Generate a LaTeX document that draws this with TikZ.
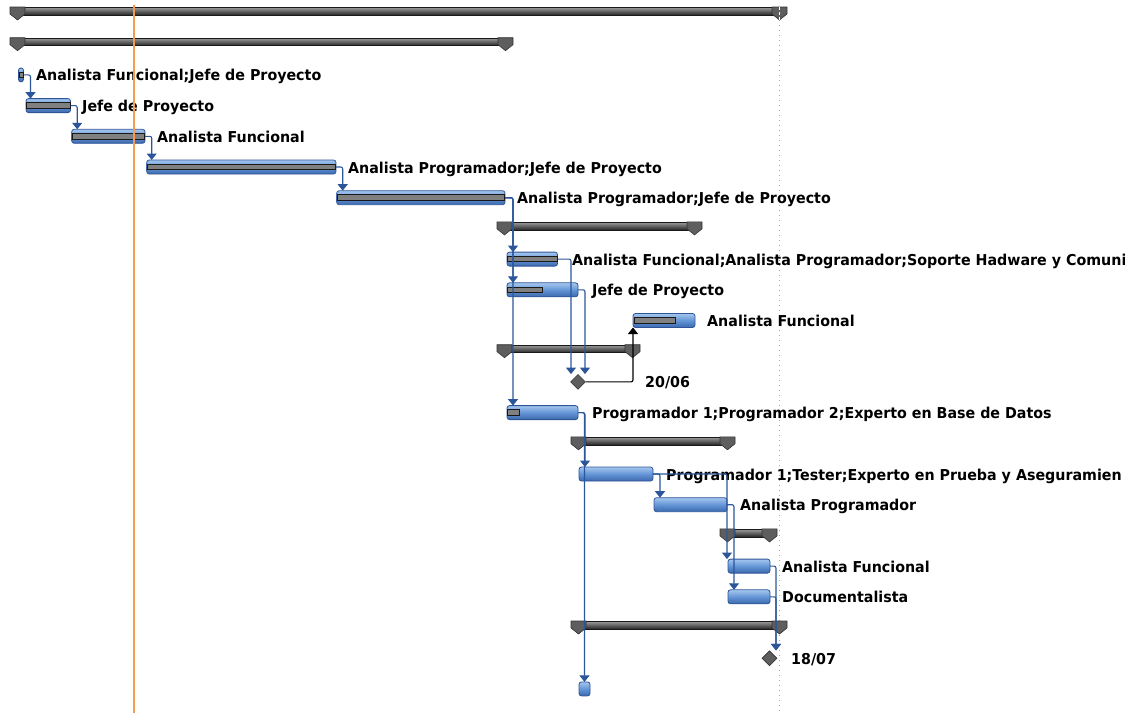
\documentclass[tikz,border=0pt]{standalone}
\usepackage{fontspec}
\setmainfont{DejaVu Sans}[FakeStretch=0.95]
\usetikzlibrary{arrows.meta,shapes.geometric}
\definecolor{linkblue}{HTML}{2B579A}
\definecolor{barline}{HTML}{2F5597}
\definecolor{bartop}{HTML}{A4C6EE}
\definecolor{barmid}{HTML}{6495D6}
\definecolor{barbot}{HTML}{3A68AD}
\definecolor{orangeln}{HTML}{F59A4E}
\definecolor{sumfill}{HTML}{5E5E5E}
\newcommand\tk[4]{\node[taskbar, minimum width={#3-#2}] (#1) at (#2,#4) {};}
\newcommand\prg[3]{\filldraw[prog] (#1,#3-3) rectangle (#2,#3+2.5);}
\newcommand\summ[3]{%
  \draw[black!90, line width=0.6pt, top color=gray!80, bottom color=black!85] (#1+4,#3-6) rectangle (#2-4,#3+1.5);
  \filldraw[fill=sumfill, draw=black!80, line width=0.6pt] (#1,#3-6.5) -- (#1+15,#3-6.5) -- (#1+15,#3+0.5) -- (#1+7.5,#3+6.5) -- (#1,#3+0.5) -- cycle;
  \filldraw[fill=sumfill, draw=black!80, line width=0.6pt] (#2-15,#3-6.5) -- (#2,#3-6.5) -- (#2,#3+0.5) -- (#2-7.5,#3+6.5) -- (#2-15,#3+0.5) -- cycle;}
\begin{document}
\begin{tikzpicture}[x=1pt,y=-1pt,
  taskbar/.style={draw=barline, line width=0.8pt, rounded corners=2.5pt, top color=bartop, bottom color=barbot, middle color=barmid, minimum height=14pt, inner sep=0pt, outer sep=0pt, anchor=west},
  lbl/.style={anchor=base west, inner sep=0pt, font=\fontsize{15}{18}\selectfont\bfseries},
  link/.style={draw=linkblue, line width=1.1pt, rounded corners=2pt, -{Triangle[width=10pt,length=6.5pt]}},
  mile/.style={diamond, draw=black!80, fill=sumfill, line width=0.6pt, minimum width=15pt, minimum height=15pt, inner sep=0pt},
  prog/.style={draw=black!90, fill=black!50, line width=0.6pt}]
\useasboundingbox (0,0) rectangle (1125,713);
\begin{scope}
\clip (0,0) rectangle (1125,713);
% status line
\draw[gray!70, line width=1pt, dash pattern=on 1pt off 4pt] (779,20) -- (779,713);
% summaries
\summ{10}{787}{13.5}
\summ{10}{513}{44.2}
\summ{497}{702}{228.4}
\summ{497}{640}{351.2}
\summ{571}{735}{443.3}
\summ{720}{777}{535.4}
\summ{571}{787}{627.5}
\draw[white, line width=1pt, dash pattern=on 3pt off 2pt] (779,7) -- (779,20);
% tasks
\tk{t2}{18.5}{23.5}{74.9} \prg{19}{23}{74.9}
\tk{t3}{26}{70.5}{105.6} \prg{26.5}{70}{105.6}
\tk{t4}{71.7}{145}{136.3} \prg{72.2}{144.5}{136.3}
\tk{t5}{146.7}{336}{167.0} \prg{147.2}{335.5}{167.0}
\tk{t6}{336.7}{505}{197.7} \prg{337.2}{504.5}{197.7}
\tk{t8}{507}{557.5}{259.1} \prg{507.5}{557}{259.1}
\tk{t9}{507}{578}{289.8} \prg{507.5}{542}{289.8}
\tk{t10}{633}{695}{320.5} \prg{634}{675}{320.5}
\tk{t13}{507}{578}{412.6} \prg{507.5}{519}{412.6}
\tk{t15}{579}{653}{474.0}
\tk{t16}{654}{727}{504.7}
\tk{t18}{728}{770}{566.1}
\tk{t19}{728}{770}{596.8}
\tk{t22}{579}{590}{688.9}
% milestones
\node[mile] (m12) at (578,381.9) {};
\node[mile] (m21) at (769.5,658.2) {};
% labels
\node[lbl] (l2) at (36,80.9) {Analista Funcional;Jefe de Proyecto};
\node[lbl] (l3) at (82,111.6) {Jefe de Proyecto};
\node[lbl] (l4) at (157,142.3) {Analista Funcional};
\node[lbl] (l5) at (348,173.0) {Analista Programador;Jefe de Proyecto};
\node[lbl] (l6) at (517,203.7) {Analista Programador;Jefe de Proyecto};
\node[lbl] (l8) at (572,265.1) {Analista Funcional;Analista Programador;Soporte Hadware y Comuni};
\node[lbl] (l9) at (592,295.8) {Jefe de Proyecto};
\node[lbl] (l10) at (707,326.5) {Analista Funcional};
\node[lbl] (l12) at (645,387.9) {20/06};
\node[lbl] (l13) at (592,418.6) {Programador 1;Programador 2;Experto en Base de Datos};
\node[lbl] (l15) at (666,480.0) {Programador 1;Tester;Experto en Prueba y Aseguramien};
\node[lbl] (l16) at (740,510.7) {Analista Programador};
\node[lbl] (l18) at (782,572.1) {Analista Funcional};
\node[lbl] (l19) at (782,602.8) {Documentalista};
\node[lbl] (l21) at (791,664.2) {18/07};
% links
\draw[link] (t2.east) -| ([xshift=4.5pt]t3.north west);
\draw[link] (t3.east) -| ([xshift=5.5pt]t4.north west);
\draw[link] (t4.east) -| ([xshift=5pt]t5.north west);
\draw[link] (t5.east) -| ([xshift=6pt]t6.north west);
\draw[link] (t6.east) -| ([xshift=6pt]t8.north west);
\draw[link] (t6.east) -| ([xshift=6pt]t9.north west);
\draw[link] (t6.east) -| ([xshift=6pt]t13.north west);
\draw[link] (t8.east) -| ([xshift=-7pt]m12.north);
\draw[link] (t9.east) -| ([xshift=7pt]m12.north);
\draw[link, draw=black] (m12.east) -| (t10.south west);
\draw[link] (t13.east) -| ([xshift=6pt]t15.north west);
\draw[link] (t13.east) -| (t22.north);
\draw[link] (t15.east) -| ([xshift=6pt]t16.north west);
\draw[link] (t15.east) -| ([xshift=-1pt]t18.north west);
\draw[link] (t16.east) -| ([xshift=6pt]t19.north west);
\draw[link] (t18.east) -| ([xshift=6.5pt]m21.north);
\draw[link] (t19.east) -| ([xshift=6.5pt]m21.north);
% current date line
\draw[orangeln, line width=1.3pt] (134,5) -- (134,713);
\end{scope}
\end{tikzpicture}
\end{document}
